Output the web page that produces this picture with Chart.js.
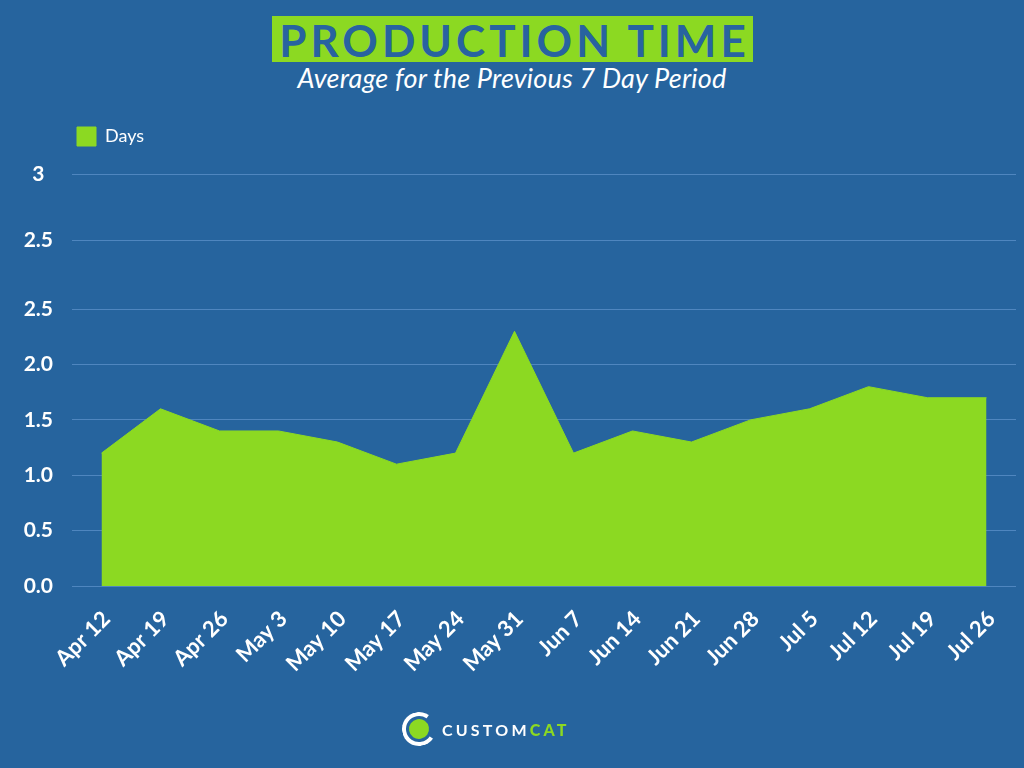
<!DOCTYPE html>
<html>
<head>
<meta charset="utf-8">
<title>Production Time</title>
<script src="https://cdn.jsdelivr.net/npm/chart.js@4"></script>
<style>
  html, body { margin: 0; padding: 0; }
  body {
    width: 1024px; height: 768px; overflow: hidden; position: relative;
    background: #26649e;
    font-family: Lato, 'Open Sans', sans-serif;
  }
  #chart { position: absolute; left: 0; top: 0; }
  .title {
    position: absolute; left: 272px; top: 16px; width: 481px; height: 46px;
    background: #8cd922; color: #2863a0;
    font: bold 44px Lato, sans-serif; line-height: 48px;
    text-align: center; letter-spacing: 4px; text-indent: 4px;
  }
  .subtitle {
    position: absolute; left: 0; top: 61px; width: 1024px;
    color: #fff; font: italic 27px Lato, sans-serif; text-align: center;
    letter-spacing: 0.2px;
  }
  .logo {
    position: absolute; left: 402px; top: 713px; height: 32px;
    display: flex; align-items: center;
  }
  .logo .ring {
    width: 26px; height: 26px; border-radius: 50%;
    border: 4px solid #fff; border-right-color: transparent;
    display: flex; align-items: center; justify-content: center;
    transform: rotate(-10deg);
  }
  .logo .ring span {
    width: 20px; height: 20px; border-radius: 50%; background: #8cd922;
  }
  .logo .word {
    margin-left: 6px; font: bold 16px Lato, sans-serif; letter-spacing: 3.2px; color: #fff;
  }
  .logo .word b { color: #8cd922; }
</style>
</head>
<body>
<div class="title">PRODUCTION TIME</div>
<div class="subtitle">Average for the Previous 7 Day Period</div>
<canvas id="chart" width="1024" height="768"></canvas>
<div class="logo"><div class="ring"><span></span></div><div class="word">CUSTOM<b>CAT</b></div></div>

<script>
// weekly labels and average production days
const weeks = ['Apr 12', 'Apr 19', 'Apr 26', 'May 3', 'May 10', 'May 17', 'May 24', 'May 31',
               'Jun 7', 'Jun 14', 'Jun 21', 'Jun 28', 'Jul 5', 'Jul 12', 'Jul 19', 'Jul 26'];
const days = [1.2, 1.6, 1.4, 1.4, 1.3, 1.1, 1.2, 2.3, 1.2, 1.4, 1.3, 1.5, 1.6, 1.8, 1.7, 1.7];

// the y axis in the original repeats "2.5" and has an uneven top step
const yTickValues = [0, 0.5, 1, 1.5, 2, 2.5, 3.12, 3.72];
const yTickLabels = ['0.0', '0.5', '1.0', '1.5', '2.0', '2.5', '2.5', '3'];

const GREEN = '#8cd922';
const GRID = '#4f86bf';

// legend sits inside the plot area, top-left; chart.js resets its top to 0 for 'chartArea'
const legendInArea = {
  id: 'legendInArea',
  afterLayout(chart) {
    const lg = chart.legend;
    if (!lg) return;
    const h = lg.height;
    lg.top = chart.chartArea.top;
    lg.bottom = lg.top + h;
  },
};

new Chart(document.getElementById('chart'), {
  type: 'line',
  data: {
    labels: weeks,
    datasets: [{
      label: 'Days',
      data: days,
      fill: 'origin',
      backgroundColor: GREEN,
      borderColor: GREEN,
      borderWidth: 1,
      pointRadius: 0,
      tension: 0,
    }],
  },
  plugins: [legendInArea],
  options: {
    responsive: false,
    animation: false,
    layout: { padding: { top: 122, left: 0, right: 8, bottom: 0 } },
    plugins: {
      legend: {
        position: 'chartArea',
        align: 'start',
        labels: {
          boxWidth: 19,
          boxHeight: 19,
          padding: 5,
          color: '#fff',
          font: { family: 'Lato', size: 18 },
        },
      },
      tooltip: { enabled: false },
    },
    scales: {
      x: {
        offset: true,
        grid: { display: false },
        border: { display: false },
        afterFit: (s) => { s.height = 182; },
        ticks: {
          color: '#fff',
          autoSkip: false,
          minRotation: 45,
          maxRotation: 45,
          padding: 12,
          labelOffset: 5,
          font: { family: 'Lato', size: 22, weight: 'bold' },
        },
      },
      y: {
        min: 0,
        max: 4.19,
        afterFit: (s) => { s.width = 72; },
        afterBuildTicks: (s) => { s.ticks = yTickValues.map(v => ({ value: v })); },
        grid: { color: GRID, lineWidth: 1, drawTicks: false },
        border: { display: false },
        ticks: {
          color: '#fff',
          autoSkip: false,
          padding: 19,
          crossAlign: 'center',
          font: { family: 'Lato', size: 21, weight: 'bold' },
          callback: (v, i) => yTickLabels[i],
        },
      },
    },
  },
});
</script>
</body>
</html>
